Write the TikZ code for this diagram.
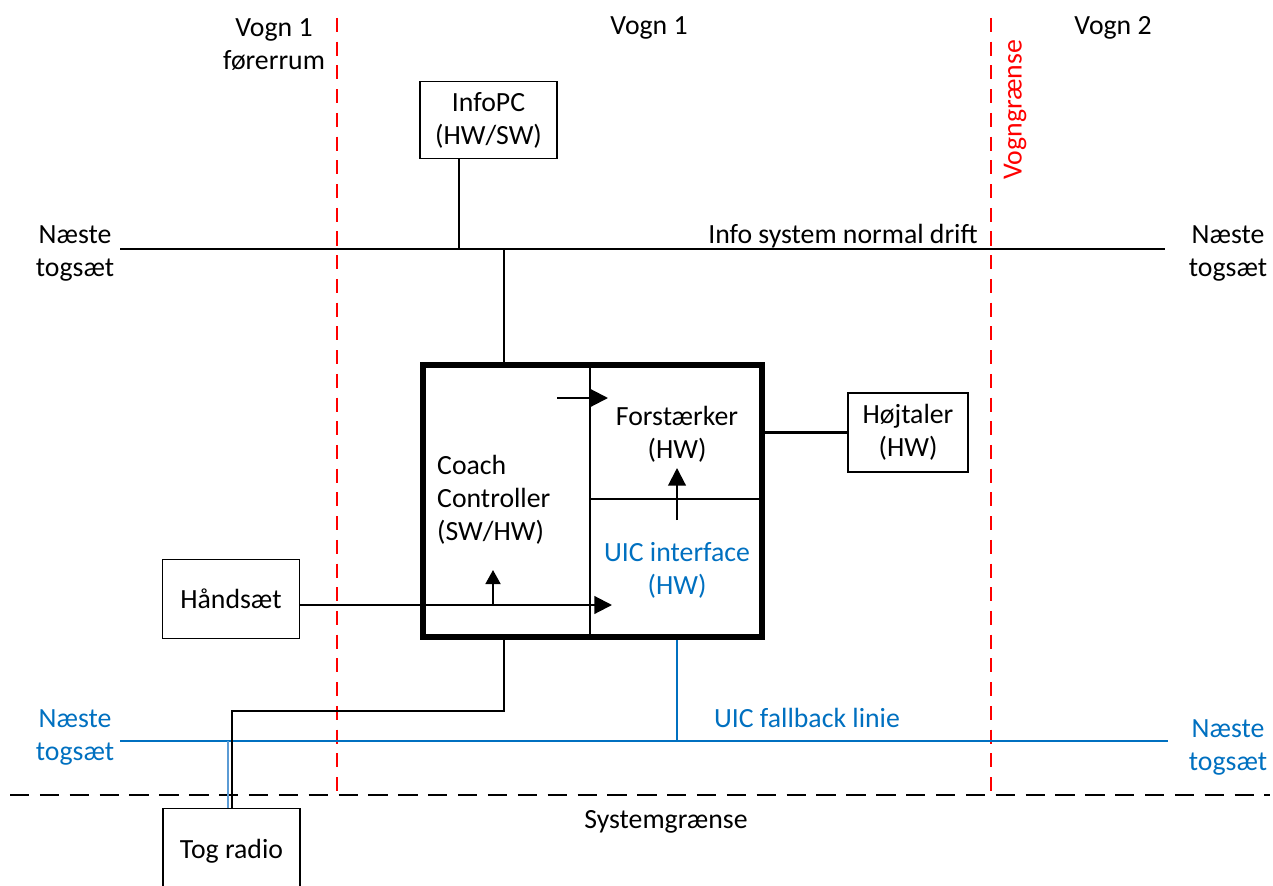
\documentclass[tikz,border=0pt]{standalone}
\usepackage{fontspec}
\setmainfont{Carlito}
\usetikzlibrary{arrows.meta, positioning}
\definecolor{uicblue}{HTML}{0070C0}
\definecolor{radioblue}{HTML}{5B9BD5}
\definecolor{gransered}{HTML}{FF0000}

\begin{document}
\begin{tikzpicture}[x=0.02cm, y=-0.02cm,
    every node/.style={font=\fontsize{15.8}{18.8}\selectfont, align=center},
    unit/.style={draw, line width=1pt, inner sep=0pt,
                 minimum width=2.74cm, minimum height=1.54cm},
    wire/.style={line width=1.2pt},
    uicwire/.style={line width=1.2pt, uicblue},
    sig/.style={-{Triangle[length=10pt, width=10pt]}, line width=1.2pt},
    vogngr/.style={gransered, line width=1.2pt, dash pattern=on 8pt off 5.5pt},
    systemgr/.style={line width=1.2pt, dash pattern=on 11pt off 6pt},
]
    \useasboundingbox (0,0) rectangle (1273,885);

    % boundaries
    \coordinate (vg1t) at (337,18);  \coordinate (vg1b) at (337,795);
    \coordinate (vg2t) at (991,18);  \coordinate (vg2b) at (991,795);
    \coordinate (sgl) at (10,795);   \coordinate (sgr) at (1270,795);
    \draw[vogngr] (vg1t) -- (vg1b);
    \draw[vogngr] (vg2t) -- (vg2b);
    \draw[systemgr] (sgl) -- (sgr);

    \node (vogn1f) at (274,45) {Vogn 1\\førerrum};
    \node (vogn1) at (649,28) {Vogn 1};
    \node (vogn2) at (1113,28) {Vogn 2};
    \node[rotate=90, text=gransered] (vgtxt) at (1015,110) {Vogngrænse};
    \node (sgtxt) at (666,822) {Systemgrænse};

    % busses
    \coordinate (infoL) at (120,249); \coordinate (infoR) at (1165,249);
    \coordinate (uicL) at (120,741);  \coordinate (uicR) at (1168,741);
    \draw[wire] (infoL) -- (infoR);
    \draw[uicwire] (uicL) -- (uicR);
    \node (nasteL) at (75,253) {Næste\\togsæt};
    \node (nasteR) at (1228,253) {Næste\\togsæt};
    \node[text=uicblue] (uicnasteL) at (75,737) {Næste\\togsæt};
    \node[text=uicblue] (uicnasteR) at (1228,747) {Næste\\togsæt};
    \node (infotxt) at (843,236) {Info system normal drift};
    \node[text=uicblue] (uictxt) at (807,718) {UIC fallback linie};

    % units
    \node[unit] (infopc) at (488.5,120) {InfoPC\\(HW/SW)};
    \node[unit, minimum width=2.4cm, minimum height=1.58cm] (hojtaler) at (908,432.5) {Højtaler\\(HW)};
    \node[unit, minimum height=1.58cm] (handsaet) at (231,599) {Håndsæt};
    \node[draw, line width=3.4pt, inner sep=0pt, minimum width=6.78cm,
          minimum height=5.44cm] (coach) at (592.5,501) {};

    \coordinate (divtop) at (590,362);
    \draw[wire] (divtop) -- (divtop |- coach.south);
    \coordinate (divmid) at (590,499);
    \draw[wire] (divmid) -- (divmid -| coach.east);

    \node[anchor=west, align=left] (cctxt) at (431,500) {Coach\\Controller\\(SW/HW)};
    \node (forst) at (677,434) {Forstærker\\(HW)};
    \node[text=uicblue] (uicif) at (677,570) {UIC interface\\(HW)};

    \coordinate (ccout) at (557,398);  \coordinate (forstin) at (608,398);
    \coordinate (uicout) at (677,520); \coordinate (forstbot) at (677,468);
    \coordinate (hstip) at (612,605);
    \coordinate (ccfoot) at (493,605); \coordinate (cctip) at (493,570);
    \draw[sig] (ccout) -- (forstin);
    \draw[sig] (uicout) -- (forstbot);
    \draw[sig] (handsaet.east |- hstip) -- (hstip);
    \draw[sig, -{Triangle[length=8pt, width=8.5pt]}] (ccfoot) -- (cctip);

    \draw[wire] (coach.east |- hojtaler.west) -- (hojtaler.west);
    \coordinate (tapinfo) at (459,249);
    \draw[wire] (infopc.south -| tapinfo) -- (tapinfo);
    \coordinate (tapcoach) at (504,249);
    \draw[wire] (tapcoach) -- (tapcoach |- coach.north);

    % tog radio
    \begin{scope}
        \clip (0,0) rectangle (1273,885);
        \node[unit, minimum height=1.7cm] (togradio) at (231.5,851) {Tog radio};
    \end{scope}
    \coordinate (uictap) at (677,741);
    \draw[uicwire] (uictap |- coach.south) -- (uictap);
    \coordinate (radiouic) at (228,741);
    \draw[line width=1.2pt, radioblue] (radiouic) -- (radiouic |- togradio.north);
    \coordinate (ccdown) at (504,711);
    \coordinate (radiobend) at (232,711);
    \draw[wire] (ccdown |- coach.south) -- (ccdown) -- (radiobend) -- (radiobend |- togradio.north);
\end{tikzpicture}
\end{document}
